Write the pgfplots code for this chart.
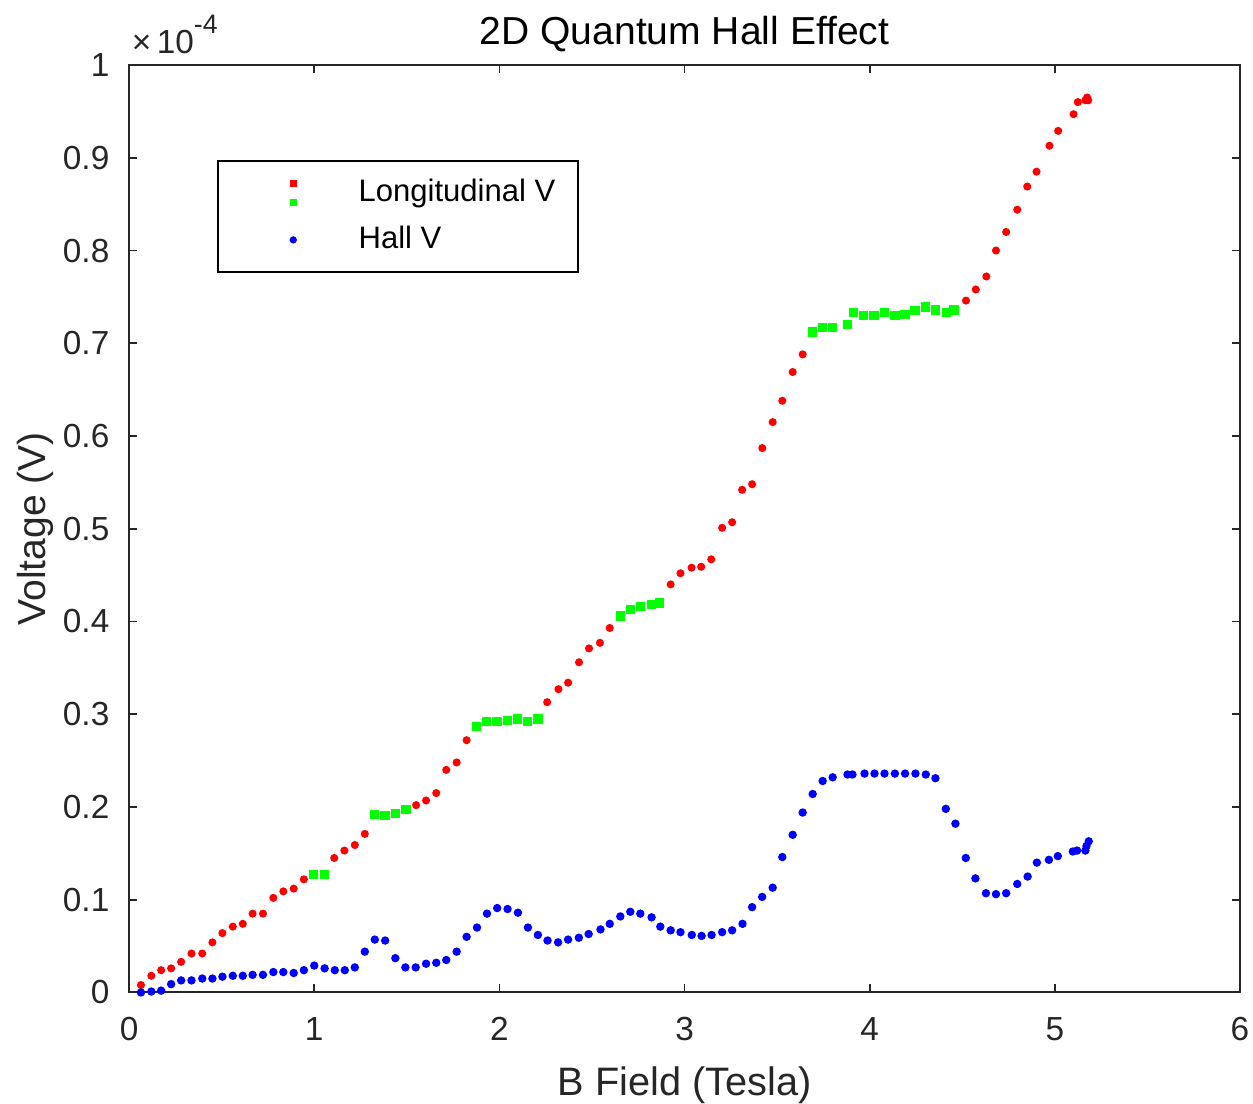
\documentclass[border=0pt]{standalone}
\usepackage{fontspec}
\setmainfont{Liberation Sans}
\usepackage{pgfplots}
\pgfplotsset{compat=1.18}
\definecolor{mred}{rgb}{1,0,0}
\definecolor{mgreen}{rgb}{0,1,0}
\definecolor{mblue}{rgb}{0,0,1}
\definecolor{mgray}{rgb}{0.15,0.15,0.15}

% Longitudinal V, off-plateau points
\pgfplotstableread{
x y
0.064 0.008
0.120 0.018
0.173 0.024
0.227 0.026
0.281 0.033
0.337 0.042
0.395 0.042
0.450 0.054
0.504 0.064
0.560 0.071
0.614 0.074
0.667 0.085
0.723 0.085
0.779 0.102
0.833 0.109
0.889 0.112
0.944 0.122
1.108 0.145
1.163 0.153
1.219 0.159
1.273 0.171
1.550 0.202
1.604 0.207
1.659 0.215
1.713 0.240
1.769 0.248
1.823 0.272
2.258 0.313
2.319 0.327
2.371 0.334
2.430 0.356
2.484 0.371
2.543 0.377
2.596 0.393
2.925 0.440
2.978 0.452
3.038 0.458
3.090 0.459
3.144 0.467
3.203 0.501
3.257 0.507
3.311 0.542
3.365 0.548
3.420 0.587
3.476 0.615
3.528 0.638
3.584 0.669
3.638 0.688
4.520 0.746
4.573 0.758
4.630 0.772
4.682 0.800
4.737 0.820
4.797 0.844
4.851 0.869
4.901 0.885
4.971 0.913
5.018 0.929
5.101 0.947
5.124 0.960
5.165 0.962
5.174 0.965
5.180 0.962
}\longred

% Longitudinal V, plateau points
\pgfplotstableread{
x y
0.995 0.127
1.054 0.127
1.327 0.192
1.383 0.191
1.438 0.193
1.496 0.197
1.877 0.287
1.929 0.292
1.987 0.292
2.044 0.293
2.096 0.295
2.152 0.292
2.208 0.295
2.655 0.406
2.707 0.413
2.763 0.416
2.822 0.418
2.865 0.420
3.692 0.712
3.744 0.717
3.800 0.717
3.881 0.720
3.911 0.733
3.967 0.730
4.024 0.730
4.080 0.733
4.136 0.730
4.191 0.731
4.245 0.735
4.301 0.739
4.357 0.736
4.414 0.733
4.456 0.736
}\longgreen

% Hall V
\pgfplotstableread{
x y
0.064 0.000
0.120 0.001
0.173 0.002
0.227 0.009
0.281 0.013
0.337 0.013
0.395 0.015
0.450 0.015
0.504 0.017
0.560 0.018
0.614 0.018
0.667 0.019
0.723 0.019
0.779 0.022
0.833 0.022
0.889 0.021
0.944 0.024
1.000 0.029
1.056 0.026
1.111 0.024
1.165 0.024
1.219 0.027
1.273 0.044
1.327 0.057
1.383 0.056
1.438 0.037
1.492 0.027
1.548 0.027
1.604 0.031
1.659 0.032
1.713 0.035
1.769 0.044
1.823 0.060
1.879 0.070
1.933 0.085
1.988 0.091
2.044 0.090
2.100 0.086
2.154 0.070
2.208 0.062
2.260 0.056
2.317 0.054
2.371 0.057
2.429 0.059
2.482 0.063
2.546 0.068
2.596 0.074
2.653 0.082
2.707 0.087
2.761 0.085
2.822 0.081
2.869 0.071
2.925 0.067
2.978 0.065
3.039 0.062
3.092 0.061
3.146 0.062
3.203 0.065
3.257 0.067
3.313 0.074
3.365 0.092
3.419 0.103
3.476 0.113
3.528 0.146
3.584 0.170
3.638 0.194
3.692 0.214
3.746 0.228
3.800 0.232
3.880 0.235
3.907 0.235
3.972 0.236
4.026 0.236
4.080 0.236
4.136 0.236
4.191 0.236
4.247 0.236
4.303 0.235
4.355 0.231
4.411 0.198
4.463 0.182
4.519 0.145
4.571 0.123
4.628 0.107
4.682 0.106
4.737 0.107
4.797 0.117
4.853 0.125
4.903 0.140
4.968 0.143
5.016 0.147
5.097 0.152
5.120 0.153
5.165 0.153
5.171 0.158
5.183 0.163
}\hall

\begin{document}
\begin{tikzpicture}
\begin{axis}[
    scale only axis,
    width=333pt, height=278pt,
    xmin=0, xmax=6, ymin=0, ymax=1,
    clip mode=individual,
    xtick={0,1,2,3,4,5,6},
    ytick={0,0.1,0.2,0.3,0.4,0.5,0.6,0.7,0.8,0.9,1},
    tick align=inside,
    major tick length=2.4pt,
    tick style={mgray, line width=0.5pt},
    axis line style={mgray, line width=0.6pt},
    /pgf/number format/assume math mode=true,
    tick label style={font=\fontsize{10}{12}\selectfont, text=mgray},
    yticklabel style={xshift=-2.4pt},
    xticklabel style={yshift=-4pt},
    title={2D Quantum Hall Effect},
    title style={font=\fontsize{11.7}{13}\selectfont, at={(0.5,1)}, anchor=base, yshift=0.3pt},
    xlabel={B Field (Tesla)},
    xlabel style={font=\fontsize{11.9}{13}\selectfont, text=mgray, at={(axis description cs:0.5,0)}, anchor=base, yshift=-31pt},
    ylabel={Voltage (V)},
    ylabel style={font=\fontsize{11.7}{13}\selectfont, text=mgray, at={(axis description cs:-0.0757,0.5)}, anchor=base},
    legend style={at={(0.079,0.898)}, anchor=north west, draw=black, line width=0.6pt,
        font=\fontsize{9.3}{11}\selectfont, row sep=1.8pt, inner xsep=4.8pt, inner ysep=3.6pt},
    legend cell align=left,
]
\addplot[only marks, mark=*, mark size=1pt, mred, draw=none,
    legend image code/.code={
        \fill[mred] (17.8pt-1pt,1.85pt) rectangle (17.8pt+1pt,3.85pt);
        \fill[mgreen] (17.8pt-1pt,-3.85pt) rectangle (17.8pt+1pt,-1.85pt);
        \path (0pt,0pt) (35.4pt,0pt);
    }] table[x=x,y=y] {\longred};
\addlegendentry{Longitudinal V}
\addplot[only marks, mark=square*, mark size=1.2pt, mgreen, forget plot] table[x=x,y=y] {\longgreen};
\addplot[only marks, mark=*, mark size=1.05pt, mblue, draw=none,
    legend image code/.code={
        \fill[mblue] (17.8pt,0pt) circle (1.1pt);
        \path (0pt,0pt) (35.4pt,0pt);
    }] table[x=x,y=y] {\hall};
\addlegendentry{Hall V}
\node[anchor=base west, inner sep=0pt, font=\fontsize{10}{12}\selectfont, text=mgray]
    at (rel axis cs:0,1) [xshift=0.6pt, yshift=3.5pt]
    {×\,10\raisebox{1.1ex}{\fontsize{8}{9}\selectfont -4}};
\coordinate (ll) at (rel axis cs:0,0);
\coordinate (ur) at (rel axis cs:1,1);
\end{axis}
\pgfresetboundingbox
\path ([shift={(-38.7pt,-33.3pt)}]ll) rectangle ([shift={(3.9pt,19.5pt)}]ur);
\end{tikzpicture}
\end{document}
